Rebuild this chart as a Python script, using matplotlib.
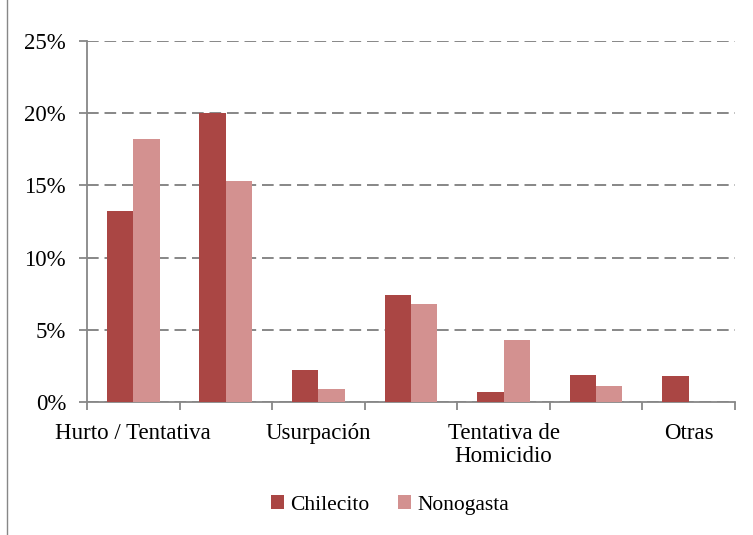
import matplotlib.pyplot as plt
import numpy as np
from matplotlib.lines import Line2D

# categories (Excel hides every other label in the original)
categorias = ['Hurto / Tentativa', '', 'Usurpación', '', 'Tentativa de\nHomicidio', '', 'Otras']
chilecito = [13.2, 20.0, 2.2, 7.4, 0.7, 1.9, 1.8]
nonogasta = [18.2, 15.3, 0.9, 6.8, 4.3, 1.1, 0.0]
y_ticks = [0, 5, 10, 15, 20, 25]

c_dark = '#AA4644'
c_light = '#D39190'
gris = '#878787'
fs = 16.5

plt.rcParams['font.family'] = ['Liberation Serif', 'DejaVu Serif']

fig = plt.figure(figsize=(7.53, 5.35), dpi=100)
ax = fig.add_axes([0.1155, 0.2486, 0.8605, 0.6748])

x = np.arange(len(categorias))
w = 0.285
ax.bar(x - w / 2, chilecito, width=w, color=c_dark, label='Chilecito', zorder=3)
ax.bar(x + w / 2, nonogasta, width=w, color=c_light, label='Nonogasta', zorder=3)

ax.set_xlim(-0.5, len(categorias) - 0.5)
ax.set_ylim(0, 25)
ax.set_yticks(y_ticks)
ax.set_yticklabels([f'{v}%' for v in y_ticks])

# category labels centered, tick marks at boundaries
ax.set_xticks(x)
ax.set_xticklabels(categorias, linespacing=1.15)
ax.set_xticks(np.arange(len(categorias) + 1) - 0.5, minor=True)
ax.tick_params(axis='x', which='major', length=0, pad=15, labelsize=fs)
ax.tick_params(axis='x', which='minor', length=6, color=gris, width=1.3, direction='out')
ax.tick_params(axis='y', length=6, color=gris, width=1.3, labelsize=fs, pad=9)

ax.yaxis.grid(True, linestyle=(0, (6, 3)), color=gris, linewidth=1.4, zorder=0)
for s in ['top', 'right']:
    ax.spines[s].set_visible(False)
for s in ['left', 'bottom']:
    ax.spines[s].set_color(gris)
    ax.spines[s].set_linewidth(1.3)

fig.legend(loc='center', bbox_to_anchor=(0.518, 0.056), ncol=2, frameon=False,
           fontsize=15.5, handlelength=0.6, handleheight=0.6, handletextpad=0.3,
           columnspacing=1.3)

# chart area border (left edge visible)
fig.add_artist(Line2D([7 / 753, 7 / 753], [0, 1], color=gris, linewidth=1.0,
                      transform=fig.transFigure))

plt.savefig('out.png', dpi=100)
